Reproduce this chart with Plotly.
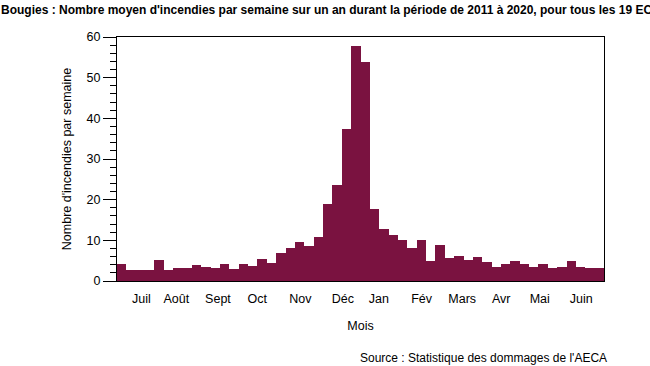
import plotly.graph_objects as go

weeks = list(range(1, 53))
incendies = [4.2, 2.6, 2.7, 2.6, 5.1, 2.8, 3.1, 3.3, 3.9, 3.4,
             3.3, 4.3, 3.0, 4.3, 3.6, 5.3, 4.5, 7.0, 8.0, 9.5,
             8.5, 10.8, 18.9, 23.6, 37.3, 57.9, 53.9, 17.7, 12.8, 11.2,
             10.2, 8.1, 10.2, 5.0, 8.8, 5.7, 6.1, 5.2, 5.9, 4.6,
             3.5, 4.3, 4.8, 4.1, 3.4, 4.2, 3.3, 3.4, 4.8, 3.4,
             3.3, 3.3]
mois = ["Juil", "Août", "Sept", "Oct", "Nov", "Déc", "Jan", "Fév", "Mars", "Avr", "Mai", "Juin"]
mois_pos = [3.1, 6.84, 11.28, 15.48, 20.07, 24.62, 28.46, 33.02, 37.36, 41.52, 45.64, 50.06]

font = "Liberation Sans, Arial, sans-serif"

fig = go.Figure(go.Bar(
    x=weeks, y=incendies,
    marker=dict(color="#7a1240", line=dict(width=0)),
    width=1.0,
))

fig.update_layout(
    width=650, height=366,
    margin=dict(l=117, r=46, t=37, b=85, autoexpand=False),
    paper_bgcolor="white", plot_bgcolor="white",
    bargap=0,
    showlegend=False,
    font=dict(family=font, size=12, color="black"),
    title=dict(
        text="<b>Bougies : Nombre moyen d'incendies par semaine sur un an durant la période de 2011 à 2020, pour tous les 19 ECA</b>",
        x=0.0, xanchor="left", xref="container", pad=dict(l=1),
        y=0.972, yanchor="middle", yref="container",
        font=dict(family=font, size=12, color="black"),
    ),
    xaxis=dict(
        range=[0.5, 52.5],
        tickmode="array", tickvals=mois_pos, ticktext=mois,
        ticks="", showgrid=False, zeroline=False,
        showline=True, linecolor="black", linewidth=1, mirror=True,
        tickfont=dict(size=12.5), ticklabelstandoff=6,
        title=dict(text="Mois", font=dict(size=12.5), standoff=16),
    ),
    yaxis=dict(
        range=[0, 60],
        tickmode="linear", tick0=0, dtick=10,
        ticks="outside", ticklen=13, tickwidth=1, tickcolor="black",
        minor=dict(dtick=2, ticks="outside", ticklen=6, tickcolor="black", tickwidth=1, showgrid=False),
        showgrid=False, zeroline=False,
        showline=True, linecolor="black", linewidth=1, mirror=True,
        tickfont=dict(size=12.5),
        title=dict(text="Nombre d'incendies par semaine", font=dict(size=12.5), standoff=12),
    ),
    annotations=[dict(
        text="Source : Statistique des dommages de l'AECA",
        xref="paper", yref="paper", x=1.011, y=-0.278,
        xanchor="right", yanchor="top", showarrow=False,
        font=dict(family=font, size=12, color="black"),
    )],
)

fig.write_html("out.html", config={"displayModeBar": False},
               post_script="document.body.style.margin='0';")
